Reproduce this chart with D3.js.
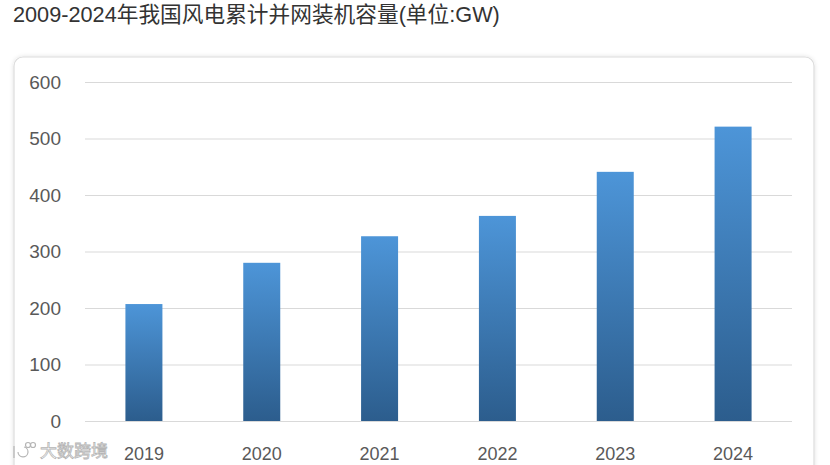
<!DOCTYPE html>
<html><head><meta charset="utf-8">
<script src="https://cdn.jsdelivr.net/npm/d3@7"></script>
<style>
html,body{margin:0;padding:0;background:#fff;overflow:hidden;}
svg{display:block;}
</style></head>
<body>
<svg id="c" width="830" height="465"></svg>
<script>
const titleText = "2009-2024年我国风电累计并网装机容量(单位:GW)";
const years = ["2019","2020","2021","2022","2023","2024"];
const capacity = [207, 280, 327, 363, 441, 521];
const yTicks = [0,100,200,300,400,500,600];

const svg = d3.select("#c");
const defs = svg.append("defs");
const grad = defs.append("linearGradient").attr("id","barGrad")
  .attr("x1",0).attr("y1",0).attr("x2",0).attr("y2",1);
grad.append("stop").attr("offset","0%").attr("stop-color","#4d95d8");
grad.append("stop").attr("offset","100%").attr("stop-color","#2c5d8d");
const sh = defs.append("filter").attr("id","shadow").attr("x","-5%").attr("y","-5%").attr("width","110%").attr("height","110%");
sh.append("feDropShadow").attr("dx",0).attr("dy",0).attr("stdDeviation",2).attr("flood-color","#000").attr("flood-opacity",0.12);

svg.append("text").attr("x",13).attr("y",22)
  .attr("font-family","'Liberation Sans','Noto Sans CJK SC',sans-serif")
  .attr("font-size",21.7).attr("fill","#333").text(titleText);

svg.append("rect").attr("x",14).attr("y",57).attr("width",800).attr("height",440)
  .attr("rx",9).attr("fill","#fff").attr("stroke","#dcdcdc").attr("stroke-width",1.2)
  .attr("filter","url(#shadow)");

const x = d3.scaleBand().domain(years).range([85,792]).paddingInner(0.686).paddingOuter(0.343);
const y = d3.scaleLinear().domain([0,600]).range([421,82]);

const yAxis = d3.axisLeft(y).tickValues(yTicks).tickSize(-(792-85)).tickPadding(24);
const gy = svg.append("g").attr("transform","translate(85,0)").call(yAxis);
gy.select(".domain").remove();
gy.selectAll(".tick line").attr("stroke","#d9d9d9").attr("stroke-width",1.2);
gy.selectAll(".tick text").attr("font-family","'Liberation Sans',sans-serif").attr("font-size",19).attr("fill","#595959");

svg.append("g").selectAll("rect").data(years).join("rect")
  .attr("x",d=>x(d)).attr("width",x.bandwidth())
  .attr("y",(d,i)=>y(capacity[i])).attr("height",(d,i)=>y(0)-y(capacity[i]))
  .attr("fill","url(#barGrad)");

const xAxis = d3.axisBottom(x).tickSize(0).tickPadding(26);
const gx = svg.append("g").attr("transform","translate(0,421)").call(xAxis);
gx.select(".domain").remove();
gx.selectAll(".tick text").attr("font-family","'Liberation Sans',sans-serif").attr("font-size",18).attr("fill","#595959");

// watermark
const wm = svg.append("g").attr("fill","none").attr("stroke","#b5b5b5").attr("stroke-width",1.2);
wm.append("path").attr("d","M14,446 L14,458 M18,452 a5,5 0 1,0 6,-5");
wm.append("circle").attr("cx",28).attr("cy",445).attr("r",2.5);
wm.append("circle").attr("cx",33).attr("cy",445).attr("r",2.5);
svg.append("text").attr("x",40).attr("y",457)
  .attr("font-family","'Noto Sans CJK SC',sans-serif").attr("font-size",17)
  .attr("fill","#fff").attr("stroke","#b5b5b5").attr("stroke-width",0.8)
  .text("大数跨境");
</script>
</body></html>
